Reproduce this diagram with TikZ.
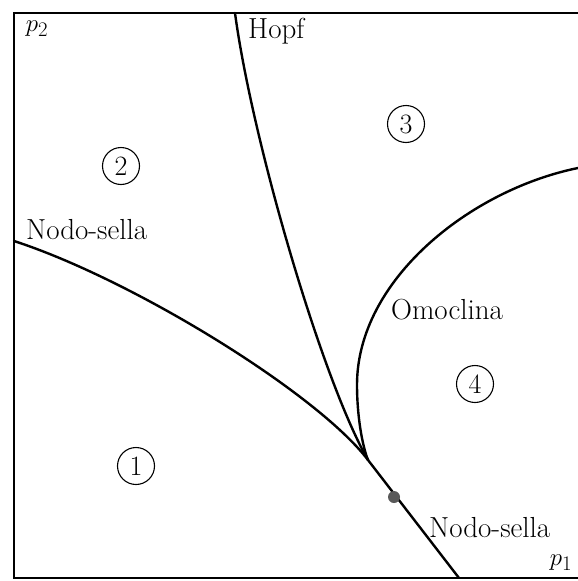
\documentclass[tikz,border=0pt]{standalone}
\begin{document}
\begin{tikzpicture}[x=1pt,y=-1pt,
  curve/.style={line width=2.4pt,line cap=round},
  frame/.style={line width=1.6pt},
  lbl/.style={font=\fontsize{29}{34}\selectfont,inner sep=0pt},
  region/.style={circle,draw,line width=1.1pt,minimum size=37pt,inner sep=0pt,font=\fontsize{28}{34}\selectfont}]
\useasboundingbox (0,0) rectangle (578,581);
% frame
\coordinate (tr) at (578,13);
\coordinate (tl) at (14,13);
\coordinate (bl) at (14,578);
\coordinate (br) at (578,578);
\draw[frame] (tr) -- (tl) -- (bl) -- (br);
% key points
\coordinate (cusp) at (368,460);
\coordinate (nsL) at (14,241);
\coordinate (nsB) at (459,578);
\coordinate (hT) at (235,13);
\coordinate (oR) at (578,168);
\coordinate (oL) at (357,385);
% curves
\draw[curve] (nsL) .. controls (134,280) and (318,394) .. (cusp) -- (nsB);
\draw[curve] (hT) .. controls (252,140) and (322,380) .. (cusp);
\draw[curve] (oR) .. controls (470,190) and (357,280) .. (oL)
  .. controls (357,415) and (362,445) .. (cusp);
\fill[black!65] (394,497) circle (6pt);
% labels
\node[lbl] (p2) at (37,29) {$p_2$};
\node[lbl,anchor=base west] (hopf) at (248,38) {Hopf};
\node[lbl,anchor=base west] (ns1) at (26,239) {Nodo-sella};
\node[lbl,anchor=base west] (omo) at (391,319) {Omoclina};
\node[lbl,anchor=base west] (ns2) at (429,537) {Nodo-sella};
\node[lbl] (p1) at (561,563) {$p_1$};
\node[region] (r1) at (136,466) {1};
\node[region] (r2) at (121,166) {2};
\node[region] (r3) at (406,124) {3};
\node[region] (r4) at (475,384) {4};
\end{tikzpicture}
\end{document}
